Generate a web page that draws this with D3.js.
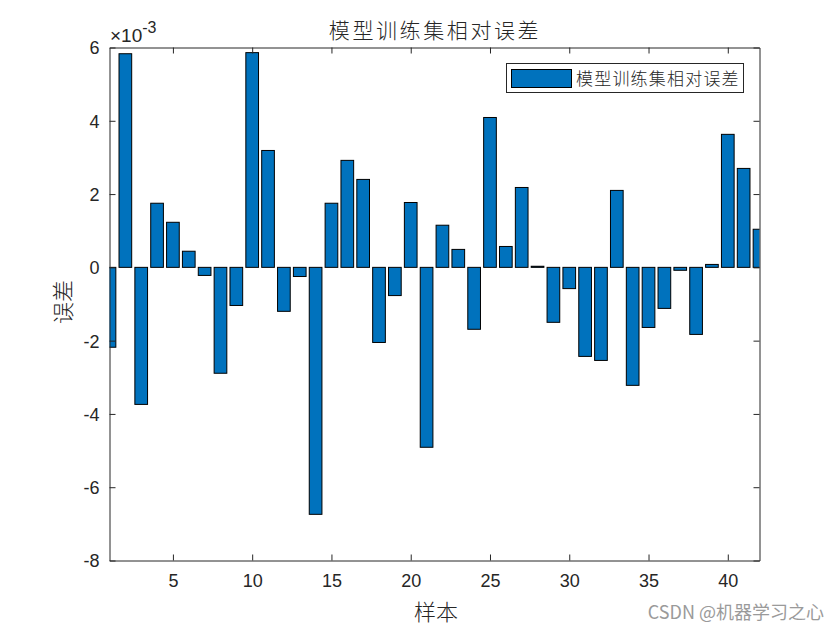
<!DOCTYPE html>
<html>
<head>
<meta charset="utf-8">
<script src="https://cdn.jsdelivr.net/npm/d3@7"></script>
<style>
  html, body { margin: 0; padding: 0; background: #fff; }
  svg { display: block; }
</style>
</head>
<body>
<svg id="chart" width="840" height="630"></svg>
<script>
// ---- data (values in units of 1e-3) ----
const samples = d3.range(1, 43);
const errors = [
  -2.18, 5.83, -3.74, 1.75, 1.23, 0.44, -0.22, -2.89, -1.04, 5.86,
   3.19, -1.20, -0.25, -6.74, 1.75, 2.92, 2.40, -2.05, -0.77, 1.77,
  -4.91, 1.15, 0.49, -1.69, 4.09, 0.57, 2.18, 0.03, -1.50, -0.58,
  -2.43, -2.54, 2.10, -3.22, -1.64, -1.12, -0.08, -1.83, 0.08, 3.63,
   2.70, 1.04
];
const xTicks = [5, 10, 15, 20, 25, 30, 35, 40];
const yTicks = [-8, -6, -4, -2, 0, 2, 4, 6];
const titleText = "模型训练集相对误差";
const xLabelText = "样本";
const yLabelText = "误差";
const legendText = "模型训练集相对误差";
const watermark = "CSDN @机器学习之心";

// ---- layout ----
const L = 109.5, R = 759.5, T = 47.5, B = 560.5;
const svg = d3.select("#chart");
const x = d3.scaleLinear().domain([1, 42]).range([L, R]);
const y = d3.scaleLinear().domain([-8, 6]).range([B, T]);
const barW = 0.8;
const axisColor = "#262626";
const numFont = "'Liberation Sans', Arial, sans-serif";
const cjkFont = "'Noto Sans CJK SC', sans-serif";
const fmt = (d) => String(d);

svg.append("defs").append("clipPath").attr("id", "clip")
  .append("rect").attr("x", L).attr("y", T).attr("width", R - L).attr("height", B - T);

// bars
svg.append("g").attr("clip-path", "url(#clip)")
  .selectAll("rect").data(samples).join("rect")
  .attr("x", (d) => x(d - barW / 2))
  .attr("width", (d) => x(d + barW / 2) - x(d - barW / 2))
  .attr("y", (d, i) => y(Math.max(0, errors[i])))
  .attr("height", (d, i) => Math.abs(y(errors[i]) - y(0)))
  .attr("fill", "#0072BD")
  .attr("stroke", "#000")
  .attr("stroke-width", 1);

// axes
const tickLen = 6;
const gxB = svg.append("g").attr("transform", `translate(0,${B})`)
  .call(d3.axisBottom(x).tickValues(xTicks).tickSize(-tickLen).tickPadding(14).tickFormat(fmt).tickSizeOuter(0));
const gxT = svg.append("g").attr("transform", `translate(0,${T})`)
  .call(d3.axisTop(x).tickValues(xTicks).tickSize(-tickLen).tickFormat("").tickSizeOuter(0));
const gyL = svg.append("g").attr("transform", `translate(${L},0)`)
  .call(d3.axisLeft(y).tickValues(yTicks).tickSize(-tickLen).tickPadding(10).tickFormat(fmt).tickSizeOuter(0));
const gyR = svg.append("g").attr("transform", `translate(${R},0)`)
  .call(d3.axisRight(y).tickValues(yTicks).tickSize(-tickLen).tickFormat("").tickSizeOuter(0));

[gxB, gxT, gyL, gyR].forEach((g) => {
  g.attr("font-size", null).attr("font-family", null);
  g.select(".domain").attr("stroke", axisColor).attr("stroke-width", 1);
  g.selectAll(".tick line").attr("stroke", axisColor).attr("stroke-width", 1);
  g.selectAll(".tick text").attr("fill", axisColor)
    .style("font-family", numFont).style("font-size", "18px");
});
gxB.selectAll(".tick text").attr("dy", "0.71em");
gyL.selectAll(".tick text").attr("dy", "0.36em");

// exponent label
const ex = svg.append("text").attr("x", 110).attr("y", 42)
  .attr("fill", axisColor).style("font-family", numFont).style("font-size", "19px");
ex.append("tspan").text("×10");
ex.append("tspan").attr("dy", -9).style("font-size", "16px").text("-3");

// title
svg.append("text").attr("x", 435).attr("y", 38).attr("text-anchor", "middle")
  .attr("fill", axisColor).style("font-family", cjkFont).style("font-size", "21px")
  .style("font-weight", 300)
  .style("letter-spacing", "2.6px").text(titleText);

// x label
svg.append("text").attr("x", 436).attr("y", 620).attr("text-anchor", "middle")
  .attr("fill", axisColor).style("font-family", cjkFont).style("font-size", "22px")
  .style("font-weight", 300)
  .text(xLabelText);

// y label
svg.append("text").attr("transform", "translate(71,302) rotate(-90)").attr("text-anchor", "middle")
  .attr("fill", axisColor).style("font-family", cjkFont).style("font-size", "22px")
  .style("font-weight", 300)
  .text(yLabelText);

// legend
const lg = svg.append("g");
lg.append("rect").attr("x", 506.5).attr("y", 63.5).attr("width", 237).attr("height", 29)
  .attr("fill", "#fff").attr("stroke", axisColor).attr("stroke-width", 1);
lg.append("rect").attr("x", 511.5).attr("y", 69.5).attr("width", 60).attr("height", 18)
  .attr("fill", "#0072BD").attr("stroke", "#000").attr("stroke-width", 1);
lg.append("text").attr("x", 576).attr("y", 84.5)
  .attr("fill", axisColor).style("font-family", cjkFont).style("font-size", "17px")
  .style("font-weight", 300)
  .style("letter-spacing", "1.2px").text(legendText);

// watermark
svg.append("text").attr("x", 824).attr("y", 619).attr("text-anchor", "end")
  .attr("fill", "#9a9a9a").style("font-family", cjkFont).style("font-size", "18px")
  .text(watermark);
</script>
</body>
</html>
